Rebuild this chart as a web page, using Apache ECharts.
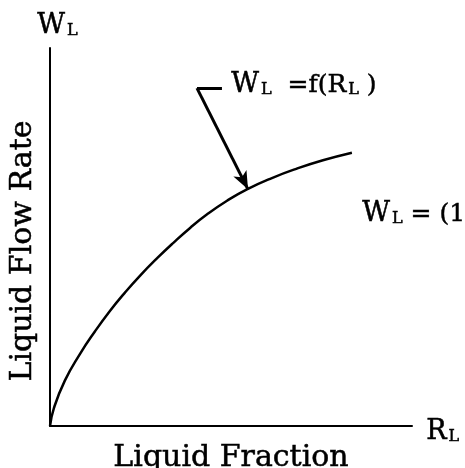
<!DOCTYPE html>
<html>
<head>
<meta charset="utf-8">
<title>Liquid Flow Rate</title>
<script src="https://cdn.jsdelivr.net/npm/echarts@6/dist/echarts.min.js"></script>
<style>
  html, body { margin: 0; padding: 0; background: #fff; }
  #chart { width: 465px; height: 468px; }
</style>
</head>
<body>
<div id="chart"></div>
<script>
// curve W_L = f(R_L) (no scale on the axes, 0..1)
var rl = [0, 0.011, 0.041, 0.083, 0.124, 0.166, 0.207, 0.249, 0.296, 0.340, 0.387, 0.434, 0.489, 0.544, 0.613, 0.682, 0.754, 0.834];
var wl = [0, 0.048, 0.120, 0.191, 0.250, 0.305, 0.353, 0.398, 0.444, 0.484, 0.524, 0.560, 0.596, 0.626, 0.656, 0.681, 0.703, 0.723];
// leader line + arrow pointing at the curve
var leaderX = [0.475, 0.406, 0.547];
var leaderY = [0.894, 0.894, 0.626];

var font = 'DejaVu Serif';
var curve = rl.map(function (x, i) { return [x, wl[i]]; });

// thicker strokes for the axis titles, like the typewritten original
var ink = { color: '#000', textBorderColor: '#000', textBorderWidth: 0.5 };

// W with subscript L
var rich = {
  w: { fontFamily: font, fontSize: 27, color: '#000', lineHeight: 30, verticalAlign: 'bottom' },
  s: { fontFamily: font, fontSize: 16, color: '#000', lineHeight: 22, verticalAlign: 'bottom', padding: [0, 0, 0, 2] },
  t: { fontFamily: font, fontSize: 25, color: '#000', lineHeight: 30, verticalAlign: 'bottom' }
};

var myChart = echarts.init(document.getElementById('chart'));
var option = {
  animation: false,
  backgroundColor: '#fff',
  grid: { left: 50, right: 53, top: 48, bottom: 42, containLabel: false, outerBoundsMode: 'none' },
  xAxis: {
    type: 'value', min: 0, max: 1,
    name: 'Liquid Fraction',
    nameLocation: 'middle',
    nameGap: 17,
    nameTextStyle: Object.assign({ fontFamily: font, fontSize: 30, verticalAlign: 'top' }, ink),
    axisLine: { lineStyle: { color: '#000', width: 2 } },
    axisTick: { show: false },
    axisLabel: { show: false },
    splitLine: { show: false }
  },
  yAxis: {
    type: 'value', min: 0, max: 1,
    name: 'Liquid Flow Rate',
    nameLocation: 'middle',
    nameGap: 12,
    nameRotate: 90,
    nameTextStyle: Object.assign({ fontFamily: font, fontSize: 30, verticalAlign: 'bottom', padding: [0, 28, 0, 0] }, ink),
    axisLine: { lineStyle: { color: '#000', width: 2 } },
    axisTick: { show: false },
    axisLabel: { show: false },
    splitLine: { show: false }
  },
  series: [
    {
      type: 'line',
      data: curve,
      smooth: 0.5,
      showSymbol: false,
      lineStyle: { color: '#000', width: 2.5 },
      markLine: {
        silent: true,
        label: { show: false },
        lineStyle: { color: '#000', width: 3, type: 'solid' },
        data: [
          [
            { coord: [leaderX[0], leaderY[0]], symbol: 'none' },
            { coord: [leaderX[1], leaderY[1]], symbol: 'none' }
          ],
          [
            { coord: [leaderX[1], leaderY[1]], symbol: 'none' },
            { coord: [leaderX[2], leaderY[2]], symbol: 'arrow', symbolSize: [11, 18] }
          ]
        ]
      }
    }
  ],
  graphic: [
    { type: 'text', left: 37, top: 12, style: { text: '{w|W}{s|L}', rich: rich, stroke: '#000', lineWidth: 0.5 } },
    { type: 'text', left: 426, top: 418, style: { text: '{w|R}{s|L}', rich: rich, stroke: '#000', lineWidth: 0.5 } },
    { type: 'text', left: 231, top: 71, style: { text: '{w|W}{s|L}{t|  =f(R}{s|L}{t| )}', rich: rich, stroke: '#000', lineWidth: 0.5 } },
    { type: 'text', left: 362, top: 200, style: { text: '{w|W}{s|L}{t| = (1}', rich: rich, stroke: '#000', lineWidth: 0.5 } }
  ]
};
myChart.setOption(option);
</script>
</body>
</html>
